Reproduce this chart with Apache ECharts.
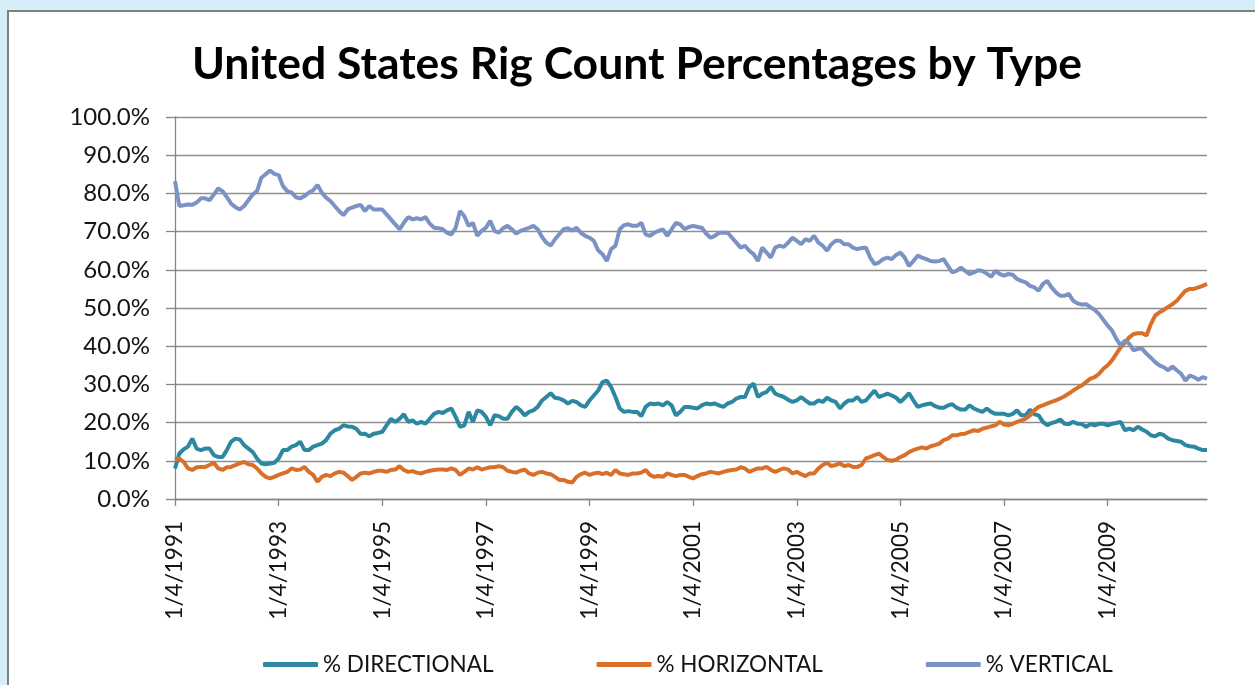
<!DOCTYPE html>
<html>
<head>
<meta charset="utf-8">
<script src="https://cdn.jsdelivr.net/npm/echarts@6/dist/echarts.min.js"></script>
<style>
html,body{margin:0;padding:0;background:#d5eef7;}
#chart{width:1255px;height:685px;}
</style>
</head>
<body>
<div id="chart"></div>
<script>
// Monthly samples, Jan 1991 .. Dec 2010 (values in percent)
const directional = [
8.0,11.9,13,13.7,15.8,13.2,12.8,13.2,13.2,11.5,11,11,12.8,15,15.8,15.6,14.1,13.2,12.3,10.6,9.3,9.1,9.3,9.5,10.6,12.8,12.8,13.7,14.1,15,12.8,12.8,13.7,14.1,14.5,15.4,17.1,18,18.4,19.3,19,18.9,18.4,17,17.1,16.4,17.1,17.3,
17.6,19.3,21,20.2,21,22.2,20.2,20.6,19.7,20.2,19.7,21,22.3,22.8,22.5,23.2,23.7,21.5,18.9,19.3,22.8,20.2,23.2,22.8,21.5,19.3,21.9,21.7,21,21,22.8,24.1,23.2,21.9,22.8,23.2,24.1,25.8,26.7,27.7,26.5,26.3,25.8,25,25.7,25.4,24.5,24.1,
25.8,27.1,28.4,30.6,31,29.3,26.7,23.7,22.8,23,22.8,22.8,21.7,24.1,25,24.8,25,24.5,25.4,24.5,21.9,22.8,24.1,24.1,23.9,23.7,24.5,25,24.8,25,24.5,24.1,25,25.4,26.3,26.7,26.7,29.3,30.2,26.7,27.6,28,29.3,27.6,27.1,26.7,26,25.4,
25.8,26.7,25.8,25,25,25.8,25.4,26.5,25.8,25.4,23.7,25,25.8,25.8,26.7,25.4,25.8,27.1,28.4,26.7,27.1,27.6,27.1,26.5,25.4,26.5,27.7,25.8,24.1,24.5,24.8,25,24.3,23.9,23.9,24.5,24.8,23.9,23.4,23.4,24.5,23.7,23.2,22.8,23.7,22.8,22.3,22.3,
22.3,21.9,22.3,23.2,21.9,21.9,23.4,22.2,21.9,20.2,19.3,19.9,20.2,20.8,19.7,19.6,20.2,19.7,19.6,18.9,19.6,19.3,19.7,19.7,19.3,19.7,19.9,20.2,18,18.4,18,18.9,18.2,17.6,16.7,16.4,17.1,16.7,15.8,15.4,15.2,15,14.1,13.8,13.7,13.2,12.8,12.8
];
const horizontal = [
10.2,10.6,9.7,8,7.6,8.3,8.4,8.4,8.9,9.5,8,7.6,8.3,8.4,8.9,9.3,9.7,9.1,8.9,8,6.7,5.8,5.4,5.8,6.3,6.7,7.1,8,7.6,7.7,8.4,7.1,6.3,4.5,5.8,6.3,6,6.7,7.1,6.9,6,5,5.8,6.7,6.9,6.7,7.1,7.4,
7.4,7.1,7.6,7.7,8.6,7.6,7.1,7.3,6.9,6.7,7.1,7.4,7.6,7.7,7.7,7.6,8,7.6,6.3,7.1,8,7.7,8.3,7.7,8,8.3,8.3,8.6,8.3,7.4,7.1,6.9,7.4,7.7,6.7,6.3,6.9,7.1,6.7,6.5,5.8,5,5,4.5,4.3,5.8,6.5,6.9,
6.3,6.7,6.9,6.5,6.9,6.3,7.6,6.7,6.5,6.3,6.7,6.7,6.9,7.6,6.3,5.8,6,5.8,6.7,6.3,6,6.3,6.3,5.8,5.4,6,6.5,6.7,7.1,6.9,6.7,7.1,7.4,7.6,7.7,8.3,8,7.1,7.6,8,8,8.4,7.6,7.1,7.6,8,7.7,6.7,
7.1,6.5,6,6.7,6.7,8,8.9,9.5,8.6,8.9,9.3,8.6,8.9,8.4,8.4,8.9,10.6,11,11.5,11.9,11,10.2,10,10.3,11,11.5,12.3,12.8,13.2,13.5,13.2,13.8,14.1,14.5,15.4,15.8,16.7,16.7,17,17.1,17.6,18,17.8,18.4,18.7,19,19.3,20.2,
19.5,19.3,19.7,20.2,20.6,21,21.9,23.2,24.1,24.5,25,25.4,25.8,26.3,26.9,27.6,28.4,29.1,29.7,30.6,31.5,31.9,32.8,34.1,35,36.3,38,39.7,41,42.3,43.2,43.4,43.4,42.8,45.8,48,48.9,49.5,50.3,51,51.9,53.2,54.5,55,55,55.4,55.8,56.3
];
const vertical = [
83.2,76.7,76.9,77.1,77,77.6,78.7,78.7,78.2,79.7,81.3,80.6,79,77.3,76.4,75.8,76.7,78.2,79.7,80.6,84.1,85,86,85.1,84.8,81.9,80.6,80.2,79,78.7,79.3,80.2,80.8,82.2,80.2,78.9,78,76.7,75.4,74.3,75.8,76.3,76.7,77,75.4,76.7,75.8,75.8,
75.8,74.5,73.2,71.9,70.6,72.3,73.8,73.2,73.5,73.2,73.8,72.1,71,70.9,70.6,69.7,69.3,71,75.4,74.1,71.5,72.3,68.9,70.2,71,72.8,70.2,69.7,70.9,71.5,70.6,69.5,70.2,70.6,71,71.5,70.6,68.6,67.1,66.3,68,69.3,70.6,70.9,70.3,71,69.7,68.9,
68.4,67.6,65.1,64.1,62.3,65.4,66.3,70.6,71.7,71.9,71.5,71.5,72.3,69.3,68.9,69.7,70.2,70.6,68.9,70.6,72.3,71.9,70.6,71.2,71.5,71.2,71,69.5,68.4,68.9,69.7,69.7,69.7,68.4,67.1,65.8,66.3,65,64.1,62.3,65.8,64.5,63.2,65.8,66.3,66,67.1,68.4,
67.6,66.7,68,67.6,68.9,67.1,66.3,65,66.7,67.6,67.6,66.7,66.7,65.8,65.4,65.7,65.8,63.2,61.5,61.9,62.8,63.2,62.8,63.9,64.5,63.2,61,62.3,63.7,63.2,62.8,62.3,62.2,62.3,62.8,61,59.3,59.7,60.6,59.7,58.9,59.3,59.9,59.7,59,58.2,59.7,58.9,
58.5,58.9,58.7,57.6,57.1,56.7,55.8,55.4,54.5,56.3,57.1,55.4,54.1,53.2,53.2,53.7,51.9,51.2,50.9,51,50.2,49.5,48.4,46.9,45.4,44.1,41.9,40.2,41.5,40.6,38.9,39.3,39.3,38,37,35.8,35,34.5,33.7,34.7,33.7,32.8,31,32.3,31.9,31.2,31.9,31.5
];
const seriesNames = ['% DIRECTIONAL', '% HORIZONTAL', '% VERTICAL'];
const startYear = 1991, monthCount = 240;
const categories = [];
for (let m = 0; m < monthCount; m++) {
  categories.push(((m % 12) + 1) + '/4/' + (startYear + Math.floor(m / 12)));
}
const FONT = 'Lato';
const axisGray = '#868686';
const textColor = '#141414';
const chart = echarts.init(document.getElementById('chart'), null, {renderer: 'canvas'});
chart.setOption({
  backgroundColor: '#d5eef7',
  animation: false,
  graphic: [{
    type: 'rect', z: -10, silent: true,
    shape: {x: 8, y: 11, width: 1260, height: 700},
    style: {fill: '#ffffff', stroke: '#7f7f7f', lineWidth: 2}
  }],
  title: {
    text: 'United States Rig Count Percentages by Type',
    left: 632, textAlign: 'center', top: 37,
    textStyle: {fontFamily: FONT, fontWeight: 'bold', fontSize: 44.5, color: '#000'}
  },
  legend: {
    top: 648, left: 258,
    itemWidth: 55, itemHeight: 5, itemGap: 103,
    icon: 'roundRect',
    textStyle: {fontFamily: FONT, fontSize: 22.5, color: textColor},
    data: seriesNames
  },
  grid: {left: 175, right: 48, top: 117, bottom: 186, containLabel: false},
  xAxis: {
    type: 'category', data: categories, boundaryGap: false,
    axisLine: {lineStyle: {color: axisGray, width: 1.3}},
    axisTick: {show: true, interval: 23, length: 7, lineStyle: {color: axisGray, width: 1.3}},
    axisLabel: {interval: 23, rotate: 90, margin: 22, fontFamily: FONT, fontSize: 22.5, color: textColor},
    splitLine: {show: false}
  },
  yAxis: {
    type: 'value', min: 0, max: 100, interval: 10,
    axisLine: {show: true, lineStyle: {color: axisGray, width: 1.3}},
    axisTick: {show: true, length: 9, lineStyle: {color: axisGray, width: 1.3}},
    axisLabel: {margin: 25, fontFamily: FONT, fontSize: 24, color: textColor,
      formatter: v => v.toFixed(1) + '%'},
    splitLine: {lineStyle: {color: '#8e8e8e', width: 1.3}}
  },
  series: [
    {name: seriesNames[0], type: 'line', data: directional, showSymbol: false,
      itemStyle: {color: '#2b88a0'}, lineStyle: {width: 4, color: '#2b88a0'}},
    {name: seriesNames[1], type: 'line', data: horizontal, showSymbol: false,
      itemStyle: {color: '#d9702a'}, lineStyle: {width: 4, color: '#d9702a'}},
    {name: seriesNames[2], type: 'line', data: vertical, showSymbol: false,
      itemStyle: {color: '#7b93c4'}, lineStyle: {width: 4, color: '#7b93c4'}}
  ]
});
</script>
</body>
</html>
